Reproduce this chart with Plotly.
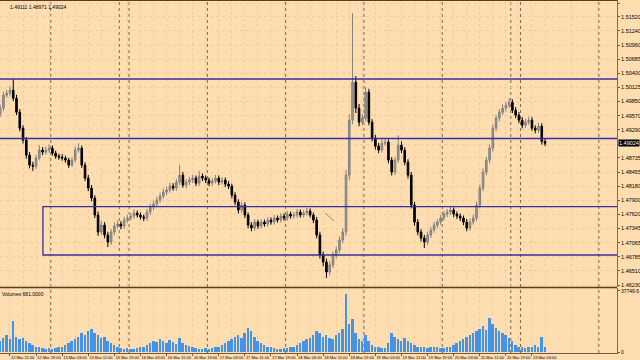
import plotly.graph_objects as go

# ---------------- data (H1 bars) ----------------
close = [1.49717, 1.49973, 1.50012, 1.50072, 1.49914, 1.49638, 1.49323, 1.49087, 1.48791, 1.48594,
         1.48574, 1.48732, 1.48890, 1.48850, 1.48890, 1.48929, 1.48830, 1.48771, 1.48752, 1.48732,
         1.48693, 1.48594, 1.48693, 1.48890, 1.48929, 1.48594, 1.48338, 1.48141, 1.47944, 1.47609,
         1.47274, 1.47412, 1.47215, 1.47077, 1.47274, 1.47392, 1.47432, 1.47392, 1.47511, 1.47550,
         1.47589, 1.47648, 1.47609, 1.47570, 1.47550, 1.47668, 1.47767, 1.47826, 1.47905, 1.47983,
         1.48062, 1.48102, 1.48180, 1.48141, 1.48259, 1.48397, 1.48200, 1.48259, 1.48299, 1.48338,
         1.48239, 1.48377, 1.48338, 1.48299, 1.48239, 1.48279, 1.48338, 1.48259, 1.48299, 1.48220,
         1.48180, 1.48003, 1.47865, 1.47708, 1.47806, 1.47609, 1.47412, 1.47353, 1.47471, 1.47392,
         1.47471, 1.47432, 1.47511, 1.47471, 1.47550, 1.47511, 1.47589, 1.47550, 1.47629, 1.47589,
         1.47609, 1.47668, 1.47609, 1.47648, 1.47688, 1.47609, 1.47511, 1.47215, 1.46821, 1.46683,
         1.46486, 1.46624, 1.46821, 1.46920, 1.47117, 1.47274, 1.48397, 1.49481, 1.50229, 1.49717,
         1.49441, 1.49520, 1.50032, 1.49441, 1.49126, 1.48968, 1.48890, 1.49027, 1.49047, 1.48693,
         1.48456, 1.48693, 1.48988, 1.48890, 1.48653, 1.48397, 1.47806, 1.47471, 1.47274, 1.47156,
         1.47077, 1.47215, 1.47314, 1.47412, 1.47471, 1.47550, 1.47629, 1.47668, 1.47708, 1.47629,
         1.47589, 1.47550, 1.47471, 1.47353, 1.47471, 1.47550, 1.47806, 1.48141, 1.48456, 1.48693,
         1.48929, 1.49323, 1.49520, 1.49638, 1.49717, 1.49776, 1.49835, 1.49678, 1.49579, 1.49481,
         1.49382, 1.49441, 1.49481, 1.49323, 1.49284, 1.49362, 1.49060, 1.49024]

high = [1.49790, 1.50040, 1.50080, 1.50150, 1.50288, 1.49980, 1.49700, 1.49380, 1.49150, 1.48850,
        1.48660, 1.48800, 1.48990, 1.48950, 1.48960, 1.49000, 1.48980, 1.48880, 1.48820, 1.48810,
        1.48780, 1.48740, 1.48750, 1.48960, 1.49027, 1.48980, 1.48650, 1.48400, 1.48200, 1.48000,
        1.47680, 1.47500, 1.47470, 1.47280, 1.47330, 1.47460, 1.47500, 1.47490, 1.47580, 1.47610,
        1.47650, 1.47720, 1.47700, 1.47660, 1.47620, 1.47730, 1.47830, 1.47890, 1.47970, 1.48050,
        1.48130, 1.48170, 1.48250, 1.48240, 1.48320, 1.48594, 1.48460, 1.48320, 1.48360, 1.48400,
        1.48390, 1.48480, 1.48430, 1.48390, 1.48350, 1.48340, 1.48400, 1.48390, 1.48360, 1.48350,
        1.48280, 1.48230, 1.48060, 1.47920, 1.47870, 1.47860, 1.47660, 1.47470, 1.47530, 1.47520,
        1.47530, 1.47520, 1.47570, 1.47560, 1.47610, 1.47600, 1.47650, 1.47640, 1.47690, 1.47680,
        1.47670, 1.47730, 1.47720, 1.47710, 1.47750, 1.47740, 1.47660, 1.47570, 1.47280, 1.46890,
        1.46750, 1.46700, 1.46890, 1.46990, 1.47190, 1.47350, 1.48500, 1.49600, 1.51590, 1.50350,
        1.49800, 1.49600, 1.50130, 1.50100, 1.49500, 1.49190, 1.49030, 1.49100, 1.49120, 1.49100,
        1.48750, 1.48760, 1.49185, 1.49060, 1.48950, 1.48710, 1.48460, 1.47870, 1.47530, 1.47330,
        1.47220, 1.47280, 1.47380, 1.47480, 1.47530, 1.47610, 1.47690, 1.47730, 1.47780, 1.47760,
        1.47680, 1.47640, 1.47600, 1.47530, 1.47540, 1.47620, 1.47870, 1.48210, 1.48530, 1.48760,
        1.49000, 1.49400, 1.49590, 1.49700, 1.49790, 1.49840, 1.49914, 1.49890, 1.49740, 1.49640,
        1.49540, 1.49510, 1.49550, 1.49540, 1.49380, 1.49430, 1.49420, 1.49111]

low = [1.49540, 1.49660, 1.49920, 1.49950, 1.49860, 1.49580, 1.49260, 1.49020, 1.48720, 1.48530,
       1.48480, 1.48520, 1.48690, 1.48790, 1.48800, 1.48840, 1.48780, 1.48720, 1.48700, 1.48680,
       1.48640, 1.48540, 1.48560, 1.48650, 1.48840, 1.48540, 1.48280, 1.48080, 1.47880, 1.47550,
       1.47200, 1.47220, 1.47150, 1.46979, 1.47020, 1.47220, 1.47340, 1.47330, 1.47340, 1.47460,
       1.47500, 1.47540, 1.47560, 1.47520, 1.47490, 1.47500, 1.47610, 1.47710, 1.47770, 1.47850,
       1.47930, 1.48000, 1.48050, 1.48090, 1.48090, 1.48200, 1.48150, 1.48140, 1.48200, 1.48240,
       1.48180, 1.48190, 1.48280, 1.48240, 1.48180, 1.48190, 1.48230, 1.48200, 1.48210, 1.48160,
       1.48120, 1.47940, 1.47800, 1.47640, 1.47650, 1.47550, 1.47350, 1.47290, 1.47300, 1.47340,
       1.47340, 1.47380, 1.47380, 1.47420, 1.47420, 1.47460, 1.47460, 1.47500, 1.47500, 1.47540,
       1.47540, 1.47560, 1.47560, 1.47560, 1.47600, 1.47560, 1.47450, 1.47150, 1.46750, 1.46600,
       1.46368, 1.46420, 1.46560, 1.46760, 1.46860, 1.47050, 1.47200, 1.48300, 1.49400, 1.49620,
       1.49360, 1.49380, 1.49460, 1.49380, 1.49060, 1.48900, 1.48830, 1.48840, 1.48970, 1.48630,
       1.48390, 1.48400, 1.48640, 1.48830, 1.48590, 1.48330, 1.47740, 1.47400, 1.47210, 1.47090,
       1.46959, 1.47020, 1.47160, 1.47260, 1.47350, 1.47420, 1.47500, 1.47570, 1.47610, 1.47570,
       1.47530, 1.47490, 1.47410, 1.47290, 1.47300, 1.47420, 1.47490, 1.47740, 1.48080, 1.48390,
       1.48630, 1.48860, 1.49260, 1.49460, 1.49580, 1.49650, 1.49720, 1.49620, 1.49520, 1.49420,
       1.49320, 1.49330, 1.49390, 1.49270, 1.49220, 1.49230, 1.49000, 1.48971]

first_open = 1.49600
opens = [first_open] + close[:-1]

volume = [6960, 8700, 10440, 8120, 19140, 9280, 8120, 8700, 6960, 5800,
          4640, 3480, 2900, 2320, 1740, 2320, 1740, 2320, 2900, 3480,
          4640, 5800, 6960, 8120, 9280, 11600, 10440, 12760, 14500, 11600,
          10440, 8700, 9280, 6960, 5800, 4640, 2900, 2320, 1740, 2320,
          1740, 1740, 2320, 2900, 3480, 4640, 5800, 6960, 6380, 8120,
          6960, 5800, 7540, 6380, 5220, 8700, 5800, 4640, 4060, 2900,
          2320, 1740, 1740, 2320, 1740, 2320, 2900, 3480, 4640, 5800,
          6960, 8120, 9280, 10440, 8700, 11600, 15080, 12760, 9280, 6960,
          5800, 4640, 3480, 2900, 2320, 1740, 1740, 2320, 2320, 2900,
          3480, 4640, 5800, 6960, 8120, 8700, 10440, 12760, 11600, 9280,
          10440, 8700, 8120, 10440, 11600, 14500, 35960, 17400, 20300, 11600,
          8120, 6960, 10440, 6960, 4640, 3480, 2900, 2320, 2320, 5800,
          11600, 9280, 8120, 6960, 8700, 6960, 5800, 4640, 3480, 2900,
          2900, 2320, 2900, 3480, 2900, 2320, 2320, 2900, 3480, 4640,
          5800, 6960, 8120, 9280, 10440, 11600, 12760, 14500, 16240, 13920,
          20880, 17400, 15080, 12760, 11600, 10440, 8700, 6960, 4640, 3480,
          2900, 2320, 3480, 2900, 4640, 3480, 9280, 2900]

bar_index = list(range(len(close)))

x_label_bars = [3, 11, 19, 27, 35, 43, 51, 59, 67, 75, 83, 91, 99, 107, 115, 123, 131, 139, 147, 155, 163]
x_labels = ["12 Mar 11:00", "12 Mar 19:00", "13 Mar 03:00", "13 Mar 11:00", "13 Mar 19:00",
            "16 Mar 03:00", "16 Mar 11:00", "16 Mar 19:00", "17 Mar 03:00", "17 Mar 11:00",
            "17 Mar 19:00", "18 Mar 03:00", "18 Mar 11:00", "18 Mar 19:00", "19 Mar 03:00",
            "19 Mar 11:00", "19 Mar 19:00", "20 Mar 03:00", "20 Mar 11:00", "20 Mar 19:00",
            "23 Mar 03:00"]

price_ticks = [1.51790, 1.51520, 1.51240, 1.50960, 1.50685, 1.50400, 1.50125, 1.49850, 1.49570,
               1.49290, 1.49010, 1.48735, 1.48455, 1.48180, 1.47900, 1.47620, 1.47345, 1.47065,
               1.46785, 1.46510, 1.46230]
price_tick_text = ["1.51790", "1.51520", "1.51240", "1.50960", "1.50685", "1.50400", "1.50125",
                   "1.49850", "1.49570", "1.49290", "", "1.48735", "1.48455", "1.48180", "1.47900",
                   "1.47620", "1.47345", "1.47065", "1.46785", "1.46510", "1.46230"]

level_lines = [1.50292, 1.49119]
zone_start_bar = 13.1
zone_low, zone_high = 1.46822, 1.47774
separator_bars = [16, 37, 40, 64, 88, 112, 136, 157, 160, 184]
last_price = 1.49024
vol_max_label = 37749.6
header_text = "1.49111 1.48971 1.49024"
volume_text = "Volumes 681.0000"

# ---------------- styling ----------------
BG = "#FEDDB0"
GRID = "#F2CC9C"
SEP = "#7A6650"
LEVEL = "#3A2E9E"
FONT = "Liberation Sans"

x_range = [-0.06, 189.06]
price_range = [1.46191, 1.51850]
main_domain = [0.1870, 1.0]
vol_domain = [0.0, 0.1841]

fig = go.Figure()

fig.add_trace(go.Candlestick(
    x=bar_index, open=opens, high=high, low=low, close=close,
    increasing=dict(line=dict(color="#808080", width=1), fillcolor="#9A9A9A"),
    decreasing=dict(line=dict(color="#000000", width=1), fillcolor="#000000"),
    whiskerwidth=0, xaxis="x", yaxis="y", showlegend=False, hoverinfo="skip"))

fig.add_trace(go.Bar(
    x=bar_index, y=volume, marker=dict(color="#4592E6", line=dict(width=0)),
    width=0.6, xaxis="x2", yaxis="y2", showlegend=False, hoverinfo="skip"))

shapes = []
for lv in level_lines:
    shapes.append(dict(type="line", xref="x domain", yref="y", x0=0, x1=1, y0=lv, y1=lv,
                       line=dict(color=LEVEL, width=1.3), layer="above"))
shapes.append(dict(type="rect", xref="x", yref="y", x0=zone_start_bar, x1=x_range[1] + 2,
                   y0=zone_low, y1=zone_high, line=dict(color=LEVEL, width=1.3),
                   fillcolor="rgba(0,0,0,0)", layer="above"))
for sb in separator_bars:
    shapes.append(dict(type="line", xref="x", yref="paper", x0=sb - 0.5, x1=sb - 0.5, y0=0, y1=1,
                       line=dict(color=SEP, width=1, dash="dot"), layer="below"))
# small drawn trend mark
shapes.append(dict(type="line", xref="x", yref="y", x0=99.6, x1=102.3, y0=1.47650, y1=1.47492,
                   line=dict(color="#8A8A8A", width=1)))
# frame lines
shapes.append(dict(type="line", xref="paper", yref="paper", x0=0, x1=1, y0=1, y1=1,
                   line=dict(color="#5A3E22", width=2)))
shapes.append(dict(type="line", xref="paper", yref="paper", x0=0, x1=1,
                   y0=(main_domain[0] + vol_domain[1]) / 2, y1=(main_domain[0] + vol_domain[1]) / 2,
                   line=dict(color="#5A3E22", width=1.5)))

annotations = [
    dict(text=header_text, xref="paper", yref="paper", x=8 / 617, y=1, xanchor="left",
         yanchor="top", yshift=-2, showarrow=False, font=dict(family=FONT, size=5, color="#000")),
    dict(text=volume_text, xref="paper", yref="paper", x=0, y=vol_domain[1], xanchor="left",
         yanchor="top", yshift=-1, showarrow=False, font=dict(family=FONT, size=5, color="#000")),
    dict(text=f"{last_price:.5f}", xref="paper", yref="y", x=1, y=last_price, xanchor="left",
         yanchor="middle", xshift=1, showarrow=False, bgcolor="#000000", borderpad=0,
         font=dict(family=FONT, size=5.5, color="#FFFFFF")),
]

fig.update_layout(
    width=640, height=360,
    margin=dict(l=0, r=23, t=0, b=7),
    paper_bgcolor=BG, plot_bgcolor=BG,
    shapes=shapes, annotations=annotations,
    bargap=0,
    xaxis=dict(domain=[0, 1], range=x_range, anchor="y", showticklabels=False,
               rangeslider=dict(visible=False), tickmode="array", tickvals=x_label_bars,
               showgrid=True, gridcolor=GRID, griddash="dot", gridwidth=1, zeroline=False,
               minor=dict(tickmode="linear", tick0=-1, dtick=8, showgrid=True, gridcolor=GRID,
                          griddash="dot")),
    xaxis2=dict(domain=[0, 1], range=x_range, anchor="y2", matches="x",
                tickmode="array", tickvals=x_label_bars, ticktext=x_labels, tickangle=0,
                ticklabelposition="outside right", ticks="outside", ticklen=2, tickcolor="#6E5A44",
                tickfont=dict(family=FONT, size=4, color="#000"),
                showgrid=True, gridcolor=GRID, griddash="dot", zeroline=False,
                minor=dict(tickmode="linear", tick0=-1, dtick=8, showgrid=True, gridcolor=GRID,
                           griddash="dot"),
                showline=True, linecolor="#6E5A44", linewidth=1),
    yaxis=dict(domain=main_domain, range=price_range, side="right", anchor="x",
               tickmode="array", tickvals=price_ticks, ticktext=price_tick_text,
               tickfont=dict(family=FONT, size=5.5, color="#000"),
               ticks="outside", ticklen=2, tickcolor="#6E5A44",
               showgrid=True, gridcolor=GRID, griddash="dot", zeroline=False,
               showline=True, linecolor="#7D6A55", linewidth=1),
    yaxis2=dict(domain=vol_domain, range=[-500, 39520], side="right", anchor="x2",
                tickmode="array", tickvals=[0, vol_max_label], ticktext=["0", "37749.6"],
                tickfont=dict(family=FONT, size=5, color="#000"),
                ticks="outside", ticklen=2, tickcolor="#6E5A44",
                showgrid=False, zeroline=False,
                showline=True, linecolor="#7D6A55", linewidth=1),
)

fig.write_html("out.html")
